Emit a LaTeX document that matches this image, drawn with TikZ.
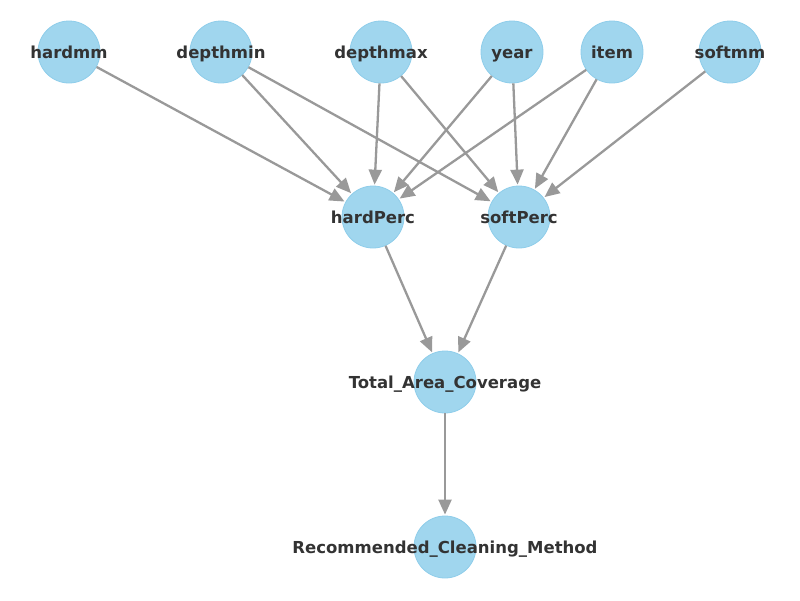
\documentclass[tikz,border=0pt]{standalone}
\usepackage{fontspec}
\setmainfont{DejaVu Sans}
\usepackage{tikz}
\usetikzlibrary{positioning, arrows.meta}
\definecolor{vFill}{HTML}{A0D6EE}
\definecolor{vEdge}{HTML}{8ECDEA}
\definecolor{eLine}{HTML}{999999}
\definecolor{tInk}{HTML}{333333}
\begin{document}
\begin{tikzpicture}[x=1pt, y=-1pt,
      var/.style={circle, fill=vFill, draw=vEdge, line width=0.8pt, minimum size=62pt, inner sep=0pt},
      lbl/.style={text=tInk, font=\bfseries\fontsize{16.5}{18}\selectfont, text height=15pt, text depth=3pt, inner sep=0pt},
      edge/.style={-{Triangle[length=15pt, width=13pt]}, line width=2.3pt, eLine, shorten >=1pt}]
      \useasboundingbox (0,0) rectangle (800,600);
      % parent variables
      \node[var] (hardmm) at (69,52) {};
      \node[var] (depthmin) at (221,52) {};
      \node[var] (depthmax) at (381,52) {};
      \node[var] (year) at (512,52) {};
      \node[var] (item) at (612,52) {};
      \node[var] (softmm) at (730,52) {};
      % intermediate and target
      \node[var] (hardPerc) at (373,217) {};
      \node[var] (softPerc) at (519,217) {};
      \node[var] (tac) at (445,382) {};
      \node[var] (rcm) at (445,547) {};
      \draw[edge] (hardmm) -- (hardPerc);
      \draw[edge] (depthmin) -- (hardPerc);
      \draw[edge] (depthmin) -- (softPerc);
      \draw[edge] (depthmax) -- (hardPerc);
      \draw[edge] (depthmax) -- (softPerc);
      \draw[edge] (year) -- (hardPerc);
      \draw[edge] (year) -- (softPerc);
      \draw[edge] (item) -- (hardPerc);
      \draw[edge] (item) -- (softPerc);
      \draw[edge] (softmm) -- (softPerc);
      \draw[edge] (hardPerc) -- (tac);
      \draw[edge] (softPerc) -- (tac);
      \draw[edge] (tac) -- (rcm);
      % labels
      \foreach \v/\t in {hardmm/hardmm, depthmin/depthmin, depthmax/depthmax, year/year, item/item,
          softmm/softmm, hardPerc/hardPerc, softPerc/softPerc, tac/Total\_Area\_Coverage,
          rcm/Recommended\_Cleaning\_Method}
        \node[lbl] at (\v) {\t};
    \end{tikzpicture}
\end{document}
